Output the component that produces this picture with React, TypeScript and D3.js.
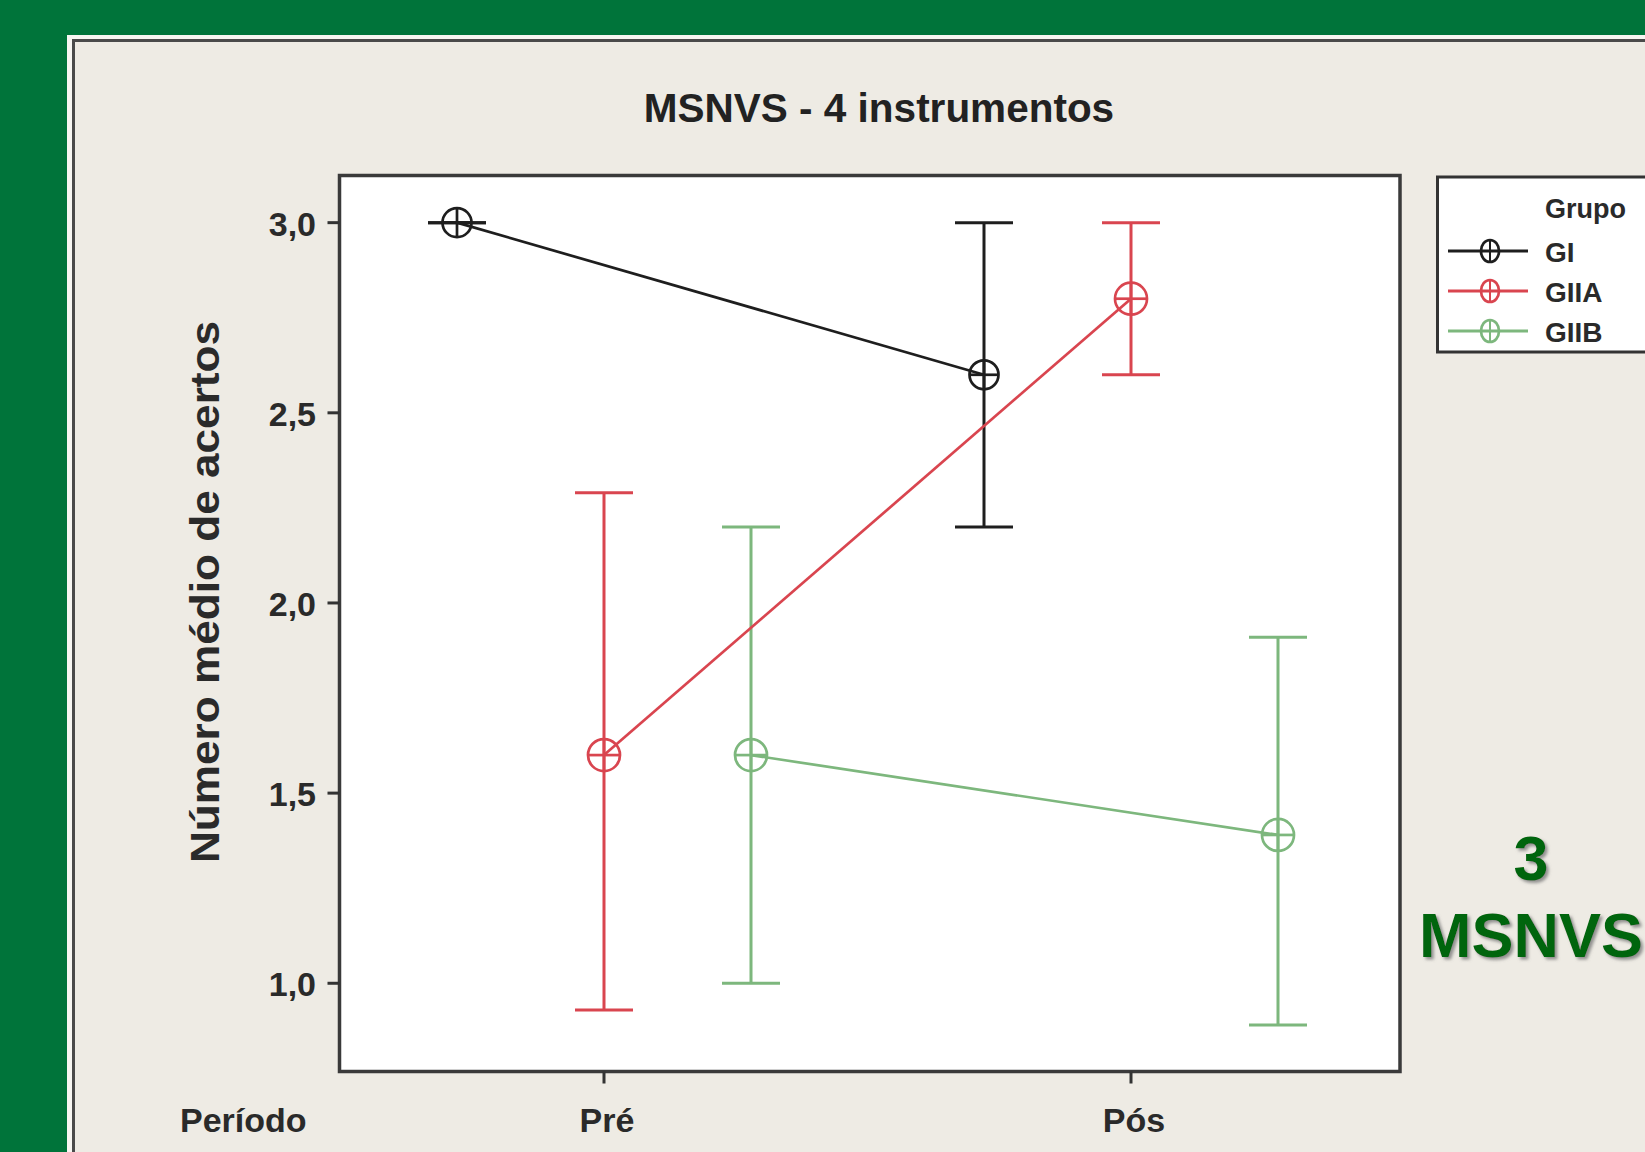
import React from "react";
import * as d3 from "d3";

const periods = ["Pré", "Pós"];
const groups = ["GI", "GIIA", "GIIB"];
const giMean = [3.0, 2.6];
const giLow = [3.0, 2.2];
const giHigh = [3.0, 3.0];
const giiaMean = [1.6, 2.8];
const giiaLow = [0.93, 2.6];
const giiaHigh = [2.29, 3.0];
const giibMean = [1.6, 1.39];
const giibLow = [1.0, 0.89];
const giibHigh = [2.2, 1.91];
const yTicks = [1.0, 1.5, 2.0, 2.5, 3.0];
const yDomain = [0.768, 3.124];
const groupColors = ["#1e1e1e", "#d9454f", "#7db77d"];

const W = 1645;
const H = 1152;
const plot = { left: 339.5, top: 175.5, right: 1400, bottom: 1071.5 };
const FONT = "'Liberation Sans', Arial, Helvetica, sans-serif";

export default function App() {
  const x = d3.scalePoint<string>().domain(periods).range([604, 1131]).padding(0);
  const dx = d3.scalePoint<string>().domain(groups).range([-147, 147]);
  const y = d3.scaleLinear().domain(yDomain).range([plot.bottom, plot.top]);

  const series = [
    { g: "GI", mean: giMean, low: giLow, high: giHigh, color: groupColors[0], r: 14.5 },
    { g: "GIIA", mean: giiaMean, low: giiaLow, high: giiaHigh, color: groupColors[1], r: 16 },
    { g: "GIIB", mean: giibMean, low: giibLow, high: giibHigh, color: groupColors[2], r: 16 },
  ];
  const line = d3.line<[number, number]>().x((d) => d[0]).y((d) => d[1]);
  const capW = 29;

  return (
    <svg width={W} height={H} style={{ position: "absolute", left: 0, top: 0 }} fontFamily={FONT}>
      <defs>
        <filter id="shadow" x="-20%" y="-20%" width="140%" height="140%">
          <feDropShadow dx="2.5" dy="2.5" stdDeviation="1.5" floodColor="#7a7a7a" floodOpacity="0.8" />
        </filter>
        <clipPath id="plotclip">
          <rect x={plot.left} y={plot.top} width={plot.right - plot.left} height={plot.bottom - plot.top} />
        </clipPath>
      </defs>
      <rect x={0} y={0} width={W} height={H} fill="#00743a" />
      <rect x={67} y={35} width={W} height={H} fill="#f7f6f2" />
      <rect x={73.5} y={40.5} width={W} height={H} fill="#eeebe4" stroke="#4a4a4a" strokeWidth={3} />

      <text x={879} y={122} textAnchor="middle" fontSize={40.5} fontWeight="bold" fill="#222">
        MSNVS - 4 instrumentos
      </text>

      <rect x={plot.left} y={plot.top} width={plot.right - plot.left} height={plot.bottom - plot.top} fill="#ffffff" stroke="#3a3a3a" strokeWidth={3.5} />

      {yTicks.map((t) => (
        <g key={t}>
          <line x1={plot.left - 12} x2={plot.left} y1={y(t)} y2={y(t)} stroke="#333" strokeWidth={3} />
          <text x={316} y={y(t) + 13} textAnchor="end" fontSize={34} fontWeight="bold" fill="#2a2a2a">
            {d3.format(".1f")(t).replace(".", ",")}
          </text>
        </g>
      ))}
      {periods.map((p) => (
        <g key={p}>
          <line x1={x(p)} x2={x(p)} y1={plot.bottom} y2={plot.bottom + 12} stroke="#333" strokeWidth={3} />
          <text x={x(p)! + 3} y={1132} textAnchor="middle" fontSize={34} fontWeight="bold" fill="#2a2a2a">
            {p}
          </text>
        </g>
      ))}
      <text x={180} y={1132} fontSize={34} fontWeight="bold" fill="#2a2a2a">Período</text>
      <text
        transform={`translate(219, 592) rotate(-90)`}
        textAnchor="middle"
        fontSize={41}
        fontWeight="bold"
        fill="#2a2a2a"
        textLength={542}
        lengthAdjust="spacingAndGlyphs"
      >
        Número médio de acertos
      </text>

      <g clipPath="url(#plotclip)">
        {series.map((s) => (
          <g key={s.g + "eb"} stroke={s.color} strokeWidth={3} fill="none">
            {periods.map((p, i) => {
              const cx = x(p)! + dx(s.g)!;
              return (
                <g key={p}>
                  <line x1={cx} x2={cx} y1={y(s.low[i])} y2={y(s.high[i])} />
                  <line x1={cx - capW} x2={cx + capW} y1={y(s.low[i])} y2={y(s.low[i])} />
                  <line x1={cx - capW} x2={cx + capW} y1={y(s.high[i])} y2={y(s.high[i])} />
                </g>
              );
            })}
          </g>
        ))}
        {series.map((s) => (
          <path
            key={s.g + "ln"}
            d={line(periods.map((p, i) => [x(p)! + dx(s.g)!, y(s.mean[i])]))!}
            stroke={s.color}
            strokeWidth={2.7}
            fill="none"
          />
        ))}
        {series.map((s) => (
          <g key={s.g + "mk"} stroke={s.color} strokeWidth={2.7} fill="none">
            {periods.map((p, i) => {
              const cx = x(p)! + dx(s.g)!;
              const cy = y(s.mean[i]);
              return (
                <g key={p}>
                  <circle cx={cx} cy={cy} r={s.r} />
                  <line x1={cx - s.r} x2={cx + s.r} y1={cy} y2={cy} />
                  <line x1={cx} x2={cx} y1={cy - s.r} y2={cy + s.r} />
                </g>
              );
            })}
          </g>
        ))}
      </g>

      <rect x={1437.5} y={177} width={300} height={175} fill="#ffffff" stroke="#333" strokeWidth={3} />
      <text x={1545} y={218} fontSize={27} fontWeight="bold" fill="#2a2a2a">Grupo</text>
      {series.map((s, i) => {
        const ly = 251 + i * 40;
        return (
          <g key={s.g + "lg"}>
            <line x1={1448} x2={1528} y1={ly} y2={ly} stroke={s.color} strokeWidth={3} />
            <ellipse cx={1490} cy={ly} rx={9} ry={11} stroke={s.color} strokeWidth={2.7} fill="none" />
            <line x1={1481} x2={1499} y1={ly} y2={ly} stroke={s.color} strokeWidth={2} />
            <line x1={1490} x2={1490} y1={ly - 11} y2={ly + 11} stroke={s.color} strokeWidth={2} />
            <text x={1545} y={ly + 11} fontSize={28} fontWeight="bold" fill="#2a2a2a">{s.g}</text>
          </g>
        );
      })}

      <g filter="url(#shadow)" fill="#05650f" fontWeight="bold" fontSize={63} textAnchor="middle">
        <text x={1531} y={880}>3</text>
        <text x={1531} y={957}>MSNVS</text>
      </g>
    </svg>
  );
}
